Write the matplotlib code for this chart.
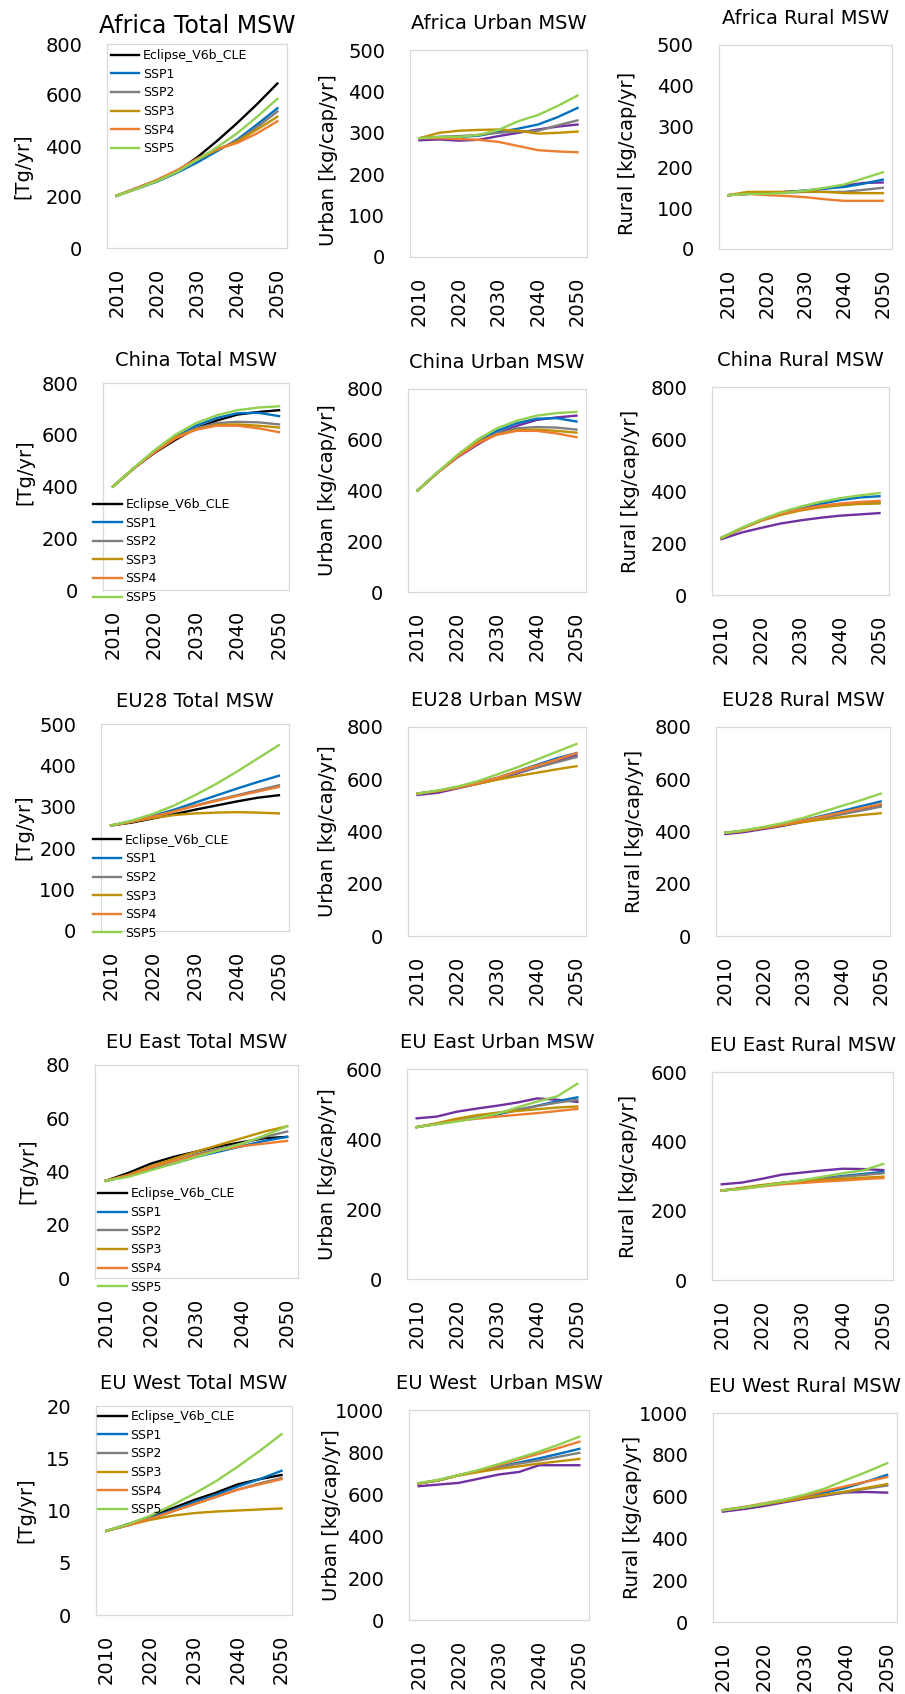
import matplotlib.pyplot as plt

plt.rcParams['font.family'] = ['DejaVu Sans']

years = [2010, 2015, 2020, 2025, 2030, 2035, 2040, 2045, 2050]
scenarios = ['Eclipse_V6b_CLE', 'SSP1', 'SSP2', 'SSP3', 'SSP4', 'SSP5']
colors_total = ['#000000', '#0070C0', '#7F7F7F', '#BF9000', '#ED7D31', '#92D050']
colors_cap = ['#7030A0', '#0070C0', '#7F7F7F', '#BF9000', '#ED7D31', '#92D050']

# Africa
africa_total = {
    'Eclipse_V6b_CLE': [205, 235, 265, 300, 355, 420, 490, 565, 645],
    'SSP1': [205, 232, 260, 295, 335, 380, 425, 485, 548],
    'SSP2': [205, 233, 263, 300, 345, 385, 420, 475, 535],
    'SSP3': [205, 234, 265, 302, 348, 385, 418, 465, 515],
    'SSP4': [205, 235, 267, 305, 350, 388, 412, 450, 497],
    'SSP5': [205, 232, 262, 298, 345, 395, 450, 515, 585],
}
africa_urban = {
    'Eclipse_V6b_CLE': [282, 284, 281, 283, 292, 300, 308, 315, 320],
    'SSP1': [287, 290, 290, 293, 302, 310, 320, 338, 360],
    'SSP2': [287, 290, 292, 295, 300, 303, 305, 318, 330],
    'SSP3': [287, 300, 305, 307, 308, 305, 298, 300, 303],
    'SSP4': [287, 287, 285, 283, 278, 268, 258, 255, 253],
    'SSP5': [287, 290, 290, 295, 307, 328, 343, 365, 390],
}
africa_rural = {
    'Eclipse_V6b_CLE': [132, 135, 137, 140, 143, 148, 155, 162, 163],
    'SSP1': [132, 135, 137, 140, 143, 148, 152, 160, 170],
    'SSP2': [132, 135, 137, 138, 140, 140, 140, 145, 150],
    'SSP3': [132, 140, 140, 140, 141, 140, 137, 137, 137],
    'SSP4': [132, 135, 132, 130, 127, 122, 118, 118, 118],
    'SSP5': [132, 135, 135, 138, 143, 150, 158, 173, 188],
}

# China
china_total = {
    'Eclipse_V6b_CLE': [400, 470, 530, 580, 625, 655, 678, 688, 695],
    'SSP1': [400, 470, 535, 590, 635, 665, 683, 685, 672],
    'SSP2': [400, 470, 535, 590, 625, 645, 650, 648, 640],
    'SSP3': [400, 470, 535, 590, 620, 638, 640, 635, 628],
    'SSP4': [400, 470, 532, 585, 620, 635, 635, 625, 610],
    'SSP5': [400, 472, 540, 600, 645, 675, 695, 705, 710],
}
china_urban = {
    'Eclipse_V6b_CLE': [400, 470, 530, 580, 625, 655, 678, 688, 695],
    'SSP1': [400, 470, 535, 590, 635, 665, 683, 685, 672],
    'SSP2': [400, 470, 535, 590, 625, 645, 650, 648, 640],
    'SSP3': [400, 470, 535, 590, 620, 638, 640, 635, 628],
    'SSP4': [400, 470, 532, 585, 620, 635, 635, 625, 610],
    'SSP5': [400, 472, 540, 600, 645, 675, 695, 705, 710],
}
china_rural = {
    'Eclipse_V6b_CLE': [215, 240, 258, 275, 287, 297, 305, 310, 315],
    'SSP1': [220, 255, 288, 313, 333, 350, 365, 375, 380],
    'SSP2': [220, 255, 287, 310, 328, 340, 348, 352, 355],
    'SSP3': [220, 255, 285, 308, 325, 337, 345, 350, 352],
    'SSP4': [220, 255, 287, 312, 330, 343, 352, 358, 362],
    'SSP5': [220, 258, 290, 318, 340, 358, 372, 383, 392],
}

# EU28
eu28_total = {
    'Eclipse_V6b_CLE': [255, 262, 272, 282, 293, 303, 313, 322, 328],
    'SSP1': [255, 265, 278, 293, 310, 327, 344, 360, 375],
    'SSP2': [255, 264, 276, 289, 303, 316, 328, 340, 352],
    'SSP3': [255, 264, 273, 280, 284, 286, 287, 286, 284],
    'SSP4': [255, 264, 276, 289, 302, 314, 326, 337, 348],
    'SSP5': [255, 267, 283, 303, 328, 355, 385, 417, 449],
}
eu28_urban = {
    'Eclipse_V6b_CLE': [540, 548, 565, 582, 600, 622, 645, 668, 690],
    'SSP1': [545, 555, 568, 585, 605, 630, 655, 680, 700],
    'SSP2': [545, 555, 568, 585, 603, 625, 645, 665, 685],
    'SSP3': [545, 555, 568, 582, 598, 612, 625, 638, 650],
    'SSP4': [545, 555, 568, 585, 605, 630, 652, 675, 700],
    'SSP5': [545, 557, 572, 592, 618, 645, 675, 705, 735],
}
eu28_rural = {
    'Eclipse_V6b_CLE': [390, 398, 410, 422, 437, 452, 468, 483, 498],
    'SSP1': [395, 403, 415, 428, 443, 460, 478, 497, 515],
    'SSP2': [395, 403, 414, 426, 438, 452, 466, 480, 495],
    'SSP3': [395, 403, 414, 425, 436, 446, 455, 463, 470],
    'SSP4': [395, 403, 415, 428, 442, 457, 473, 489, 505],
    'SSP5': [395, 405, 418, 433, 452, 475, 498, 520, 545],
}

# EU East
eueast_total = {
    'Eclipse_V6b_CLE': [36.5, 39.5, 43, 45.5, 47.5, 49.5, 51, 52.5, 53],
    'SSP1': [36.5, 38.5, 41, 43, 45.5, 47.5, 49.5, 51.5, 53],
    'SSP2': [36.5, 38.5, 41.5, 44, 46.5, 48.5, 50.5, 53, 55],
    'SSP3': [36.5, 38.8, 42, 44.8, 47.5, 50, 52.5, 55, 57],
    'SSP4': [36.5, 38.5, 41.5, 44, 46, 48, 49.5, 50.5, 51.5],
    'SSP5': [36.5, 38, 40.5, 43, 45.5, 48, 50.5, 53.5, 57],
}
eueast_urban = {
    'Eclipse_V6b_CLE': [459, 464, 478, 487, 495, 504, 516, 512, 506],
    'SSP1': [434, 443, 452, 460, 470, 482, 495, 508, 519],
    'SSP2': [434, 443, 454, 464, 474, 484, 494, 504, 512],
    'SSP3': [434, 445, 458, 468, 475, 480, 485, 490, 493],
    'SSP4': [434, 443, 452, 458, 464, 469, 474, 480, 486],
    'SSP5': [434, 442, 450, 460, 472, 490, 507, 522, 558],
}
eueast_rural = {
    'Eclipse_V6b_CLE': [276, 281, 292, 304, 310, 316, 321, 320, 317],
    'SSP1': [258, 264, 272, 280, 287, 294, 300, 306, 312],
    'SSP2': [258, 264, 272, 280, 286, 292, 298, 303, 308],
    'SSP3': [258, 266, 274, 281, 285, 289, 292, 295, 298],
    'SSP4': [258, 263, 270, 276, 280, 284, 287, 291, 294],
    'SSP5': [258, 263, 271, 280, 288, 298, 308, 316, 335],
}

# EU West
euwest_total = {
    'Eclipse_V6b_CLE': [8.05, 8.7, 9.4, 10.2, 11.0, 11.7, 12.5, 13.0, 13.4],
    'SSP1': [8.05, 8.6, 9.3, 10.0, 10.8, 11.5, 12.3, 13.0, 13.8],
    'SSP2': [8.05, 8.6, 9.2, 9.9, 10.6, 11.3, 12.0, 12.6, 13.1],
    'SSP3': [8.05, 8.6, 9.1, 9.5, 9.75, 9.9, 10.0, 10.1, 10.2],
    'SSP4': [8.05, 8.6, 9.2, 9.9, 10.6, 11.3, 12.0, 12.5, 13.0],
    'SSP5': [8.05, 8.7, 9.5, 10.5, 11.6, 12.8, 14.2, 15.7, 17.3],
}
euwest_urban = {
    'Eclipse_V6b_CLE': [637, 645, 653, 673, 693, 705, 737, 737, 737],
    'SSP1': [650, 665, 690, 710, 730, 750, 770, 792, 815],
    'SSP2': [650, 665, 690, 710, 728, 745, 760, 778, 796],
    'SSP3': [650, 665, 688, 705, 720, 732, 745, 756, 767],
    'SSP4': [650, 667, 690, 712, 738, 765, 792, 820, 849],
    'SSP5': [652, 668, 690, 715, 743, 772, 802, 836, 873],
}
euwest_rural = {
    'Eclipse_V6b_CLE': [528, 540, 555, 573, 590, 605, 620, 622, 619],
    'SSP1': [535, 548, 565, 583, 600, 620, 642, 672, 704],
    'SSP2': [535, 548, 563, 578, 594, 608, 622, 638, 653],
    'SSP3': [535, 548, 563, 578, 594, 610, 625, 642, 660],
    'SSP4': [535, 550, 568, 585, 605, 628, 650, 672, 693],
    'SSP5': [535, 548, 565, 585, 610, 640, 680, 718, 760],
}

W, H = 905, 1694
fig = plt.figure(figsize=(W / 100, H / 100), dpi=100)

# title, data, ymax, ystep, ylabel, box in pixels (x0, y0, x1, y1), ylabel pos, legend pos
panels = [
    ('Africa Total MSW', africa_total, 800, 200, '[Tg/yr]', (107, 44, 287, 248), (-0.47, 0.40), (0.02, 0.975)),
    ('Africa Urban MSW', africa_urban, 500, 100, 'Urban [kg/cap/yr]', (410, 50, 587, 257), (-0.46, 0.47), None),
    ('Africa Rural MSW', africa_rural, 500, 100, 'Rural [kg/cap/yr]', (719, 45, 892, 249), (-0.53, 0.47), None),
    ('China Total MSW', china_total, 800, 200, '[Tg/yr]', (103, 383, 289, 590), (-0.42, 0.57), (-0.055, 0.445)),
    ('China Urban MSW', china_urban, 800, 200, 'Urban [kg/cap/yr]', (408, 389, 586, 592), (-0.45, 0.5), None),
    ('China Rural MSW', china_rural, 800, 200, 'Rural [kg/cap/yr]', (712, 387, 889, 595), (-0.46, 0.5), None),
    ('EU28 Total MSW', eu28_total, 500, 100, '[Tg/yr]', (101, 724, 289, 931), (-0.41, 0.5), (-0.045, 0.47)),
    ('EU28 Urban MSW', eu28_urban, 800, 200, 'Urban [kg/cap/yr]', (408, 727, 586, 936), (-0.45, 0.5), None),
    ('EU28 Rural MSW', eu28_rural, 800, 200, 'Rural [kg/cap/yr]', (716, 727, 890, 936), (-0.47, 0.5), None),
    ('EU East Total MSW', eueast_total, 80, 20, '[Tg/yr]', (95, 1065, 298, 1278), (-0.33, 0.5), (0.015, 0.425)),
    ('EU East Urban MSW', eueast_urban, 600, 200, 'Urban [kg/cap/yr]', (407, 1069, 587, 1279), (-0.44, 0.5), None),
    ('EU East Rural MSW', eueast_rural, 600, 200, 'Rural [kg/cap/yr]', (712, 1072, 893, 1280), (-0.46, 0.5), None),
    ('EU West Total MSW', euwest_total, 20, 5, '[Tg/yr]', (96, 1406, 292, 1615), (-0.36, 0.5), (0.01, 0.98)),
    ('EU West  Urban MSW', euwest_urban, 1000, 200, 'Urban [kg/cap/yr]', (409, 1410, 589, 1620), (-0.43, 0.5), None),
    ('EU West Rural MSW', euwest_rural, 1000, 200, 'Rural [kg/cap/yr]', (713, 1413, 897, 1622), (-0.44, 0.5), None),
]

for i, (title, data, ymax, ystep, ylabel, box, labpos, legpos) in enumerate(panels):
    x0, y0, x1, y1 = box
    ax = fig.add_axes([x0 / W, 1 - y1 / H, (x1 - x0) / W, (y1 - y0) / H])
    is_total = legpos is not None
    cols = colors_total if is_total else colors_cap
    for name, c in zip(scenarios, cols):
        ax.plot(years, data[name], color=c, lw=1.7, label=name)
    ax.set_xlim(2007.6, 2052.4)
    ax.set_ylim(0, ymax)
    ax.set_xticks([2010, 2020, 2030, 2040, 2050])
    ax.set_yticks(range(0, ymax + 1, ystep))
    ax.tick_params(axis='x', length=0, pad=14, labelsize=14, labelrotation=90)
    ax.tick_params(axis='y', length=0, pad=18, labelsize=14)
    for s in ax.spines.values():
        s.set_color('#D9D9D9')
        s.set_linewidth(0.9)
    if i == 0:
        ax.set_title(title, fontsize=17, pad=8)
    else:
        ax.set_title(title, fontsize=14, pad=12 if is_total else 15)
    ax.set_ylabel(ylabel, fontsize=14, va='center')
    ax.yaxis.set_label_coords(*labpos)
    if is_total:
        ax.legend(loc='upper left', bbox_to_anchor=legpos, frameon=False,
                  fontsize=9, borderpad=0, borderaxespad=0, labelspacing=0.45,
                  handlelength=2.3, handletextpad=0.3)

fig.savefig('out.png', dpi=100)
